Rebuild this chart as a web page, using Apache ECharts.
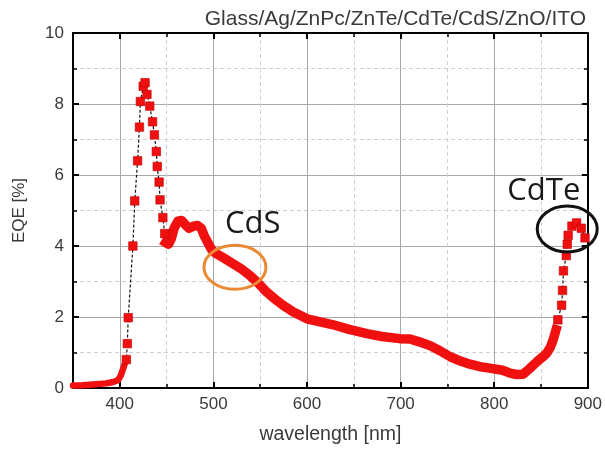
<!DOCTYPE html>
<html>
<head>
<meta charset="utf-8">
<script src="https://cdn.jsdelivr.net/npm/echarts@6/dist/echarts.min.js"></script>
<style>
  html, body { margin: 0; padding: 0; background: #fff; }
  #chart { width: 605px; height: 450px; }
</style>
</head>
<body>
<div id="chart"></div>
<script>
// EQE spectrum of Glass/Ag/ZnPc/ZnTe/CdTe/CdS/ZnO/ITO, wavelength in nm, EQE in %.
// Densely sampled stretches are drawn as a solid band, sparse ones as square markers.
const lowWl  = [350, 360, 371, 385, 392, 398, 401, 403, 405];
const lowEqe = [0.07, 0.08, 0.1, 0.13, 0.16, 0.22, 0.35, 0.5, 0.65];

const peakWl  = [407, 408, 409, 414, 416, 419, 421, 422, 425, 427, 429, 432, 435, 437, 439, 440, 442, 443, 446, 448];
const peakEqe = [0.8, 1.25, 1.98, 4.0, 5.27, 6.4, 7.35, 8.07, 8.5, 8.6, 8.27, 7.94, 7.5, 7.13, 6.66, 6.24, 5.8, 5.3, 4.8, 4.35];

const midWl  = [449, 452, 455, 458, 462, 466, 470, 474, 478, 483, 487, 490, 494, 498, 502, 510, 521, 530, 539, 548,
                557, 566, 574, 585, 600, 614, 628, 645, 664, 680, 699, 710, 720, 731, 742, 753, 764, 774, 785, 795,
                809, 817, 824, 831, 838, 846, 852, 856, 860, 863, 866];
const midEqe = [4.1, 4.05, 4.2, 4.5, 4.7, 4.72, 4.6, 4.5, 4.55, 4.58, 4.5, 4.3, 4.1, 3.9, 3.8, 3.68, 3.5, 3.35, 3.17, 2.95,
                2.7, 2.5, 2.34, 2.15, 1.95, 1.86, 1.78, 1.65, 1.53, 1.45, 1.39, 1.38, 1.3, 1.2, 1.05, 0.88, 0.76, 0.67, 0.6, 0.56,
                0.5, 0.42, 0.38, 0.39, 0.55, 0.75, 0.88, 0.98, 1.15, 1.36, 1.64];

const edgeWl  = [868, 872, 873, 874, 877, 878, 879, 883, 888, 893, 897];
const edgeEqe = [1.92, 2.33, 2.75, 3.3, 3.73, 4.05, 4.3, 4.56, 4.65, 4.5, 4.23];

// Axis ticks
const xLabelValues = [400, 500, 600, 700, 800, 900];
const xMajorTicks  = [400, 500, 600, 700, 800];
const xMinorTicks  = [450, 550, 650, 750, 850];

// Callouts for the absorber layers (position in data units)
const callouts = [
  { text: 'CdS',  textAt: [542, 4.62], ringAt: [523, 3.4],  ringColor: '#ea8a35', rx: 31, ry: 22 },
  { text: 'CdTe', textAt: [853, 5.54], ringAt: [878, 4.48], ringColor: '#111111', rx: 30, ry: 23 }
];

const pairs = (xs, ys) => xs.map((x, i) => [x, ys[i]]);
const lowData = pairs(lowWl, lowEqe);
const peakData = pairs(peakWl, peakEqe);
const midData = pairs(midWl, midEqe);
const edgeData = pairs(edgeWl, edgeEqe);
const allData = lowData.concat(peakData, midData, edgeData);

const RED = '#f01010';
const TXT = '#3a3a3a';
const FONT = '"Liberation Sans", Arial, sans-serif';

const chart = echarts.init(document.getElementById('chart'), null, { renderer: 'canvas' });

const baseX = { type: 'value', min: 350, max: 900, gridIndex: 0 };

chart.setOption({
  animation: false,
  backgroundColor: '#ffffff',
  title: {
    text: 'Glass/Ag/ZnPc/ZnTe/CdTe/CdS/ZnO/ITO',
    right: 14, top: 4,
    textStyle: { fontFamily: FONT, fontSize: 21, fontWeight: 'normal', color: TXT }
  },
  grid: { left: 73, right: 17, top: 33, bottom: 58, containLabel: false },
  xAxis: [
    Object.assign({}, baseX, {
      position: 'bottom',
      name: 'wavelength [nm]', nameLocation: 'middle', nameGap: 37,
      nameTextStyle: { fontFamily: FONT, fontSize: 19.5, color: TXT },
      axisLine: { show: true, onZero: false, lineStyle: { color: '#000', width: 2 } },
      axisTick: { show: true, inside: true, length: 6, customValues: xMajorTicks, lineStyle: { color: '#000', width: 2 } },
      axisLabel: { show: true, customValues: xLabelValues, margin: 8, fontFamily: FONT, fontSize: 17, color: TXT },
      splitLine: { show: true, lineStyle: { color: '#a8a8a8', width: 1 } }
    }),
    Object.assign({}, baseX, {
      position: 'bottom',
      axisLine: { show: false, onZero: false },
      axisTick: { show: true, inside: true, length: 4, customValues: xMinorTicks, lineStyle: { color: '#000', width: 1.5 } },
      axisLabel: { show: false },
      splitLine: { show: true, lineStyle: { color: '#cfcfcf', width: 1, type: [4, 3] } }
    }),
    Object.assign({}, baseX, {
      position: 'top',
      axisLine: { show: true, onZero: false, lineStyle: { color: '#000', width: 2 } },
      axisTick: { show: true, inside: true, length: 6, customValues: xMajorTicks, lineStyle: { color: '#000', width: 2 } },
      axisLabel: { show: false },
      splitLine: { show: false }
    }),
    Object.assign({}, baseX, {
      position: 'top',
      axisLine: { show: false, onZero: false },
      axisTick: { show: true, inside: true, length: 4, customValues: xMinorTicks, lineStyle: { color: '#000', width: 1.5 } },
      axisLabel: { show: false },
      splitLine: { show: false }
    })
  ],
  yAxis: [
    {
      type: 'value', min: 0, max: 10, interval: 2, position: 'left',
      name: 'EQE [%]', nameLocation: 'middle', nameGap: 45, nameRotate: 90,
      nameTextStyle: { fontFamily: FONT, fontSize: 17, color: TXT },
      axisLine: { show: true, onZero: false, lineStyle: { color: '#000', width: 2 } },
      axisTick: { show: true, inside: true, length: 6, lineStyle: { color: '#000', width: 2 } },
      minorTick: { show: true, splitNumber: 2, length: 4, lineStyle: { color: '#000', width: 1.5 } },
      axisLabel: { margin: 9, fontFamily: FONT, fontSize: 17, color: TXT },
      splitLine: { show: true, lineStyle: { color: '#a8a8a8', width: 1 } },
      minorSplitLine: { show: true, lineStyle: { color: '#cfcfcf', width: 1, type: [4, 3] } }
    },
    {
      type: 'value', min: 0, max: 10, interval: 2, position: 'right',
      axisLine: { show: true, onZero: false, lineStyle: { color: '#000', width: 2 } },
      axisTick: { show: true, inside: true, length: 6, lineStyle: { color: '#000', width: 2 } },
      minorTick: { show: true, splitNumber: 2, length: 4, lineStyle: { color: '#000', width: 1.5 } },
      axisLabel: { show: false },
      splitLine: { show: false }
    }
  ],
  series: [
    {
      name: 'trace', type: 'line', data: allData, xAxisIndex: 0, yAxisIndex: 0,
      symbol: 'none', silent: true, z: 2,
      lineStyle: { color: '#111', width: 1.2, type: [3, 2] }
    },
    {
      name: 'band-low', type: 'line', data: lowData, xAxisIndex: 0, yAxisIndex: 0,
      symbol: 'none', silent: true, z: 3,
      lineStyle: { color: RED, width: 6.5, cap: 'round', join: 'round' }
    },
    {
      name: 'band-mid', type: 'line', data: midData, xAxisIndex: 0, yAxisIndex: 0,
      symbol: 'none', silent: true, z: 3,
      lineStyle: { color: RED, width: 9.5, cap: 'square', join: 'round' }
    },
    {
      name: 'squares', type: 'scatter', data: peakData.concat(edgeData), xAxisIndex: 0, yAxisIndex: 0,
      symbol: 'rect', symbolSize: 8.5, silent: true, z: 4,
      itemStyle: { color: RED, opacity: 1, borderColor: '#c00000', borderWidth: 0.6 }
    }
  ]
});

// Callout labels and rings, placed through the axis scales
const graphics = [];
callouts.forEach(c => {
  const t = chart.convertToPixel({ xAxisIndex: 0, yAxisIndex: 0 }, c.textAt);
  const r = chart.convertToPixel({ xAxisIndex: 0, yAxisIndex: 0 }, c.ringAt);
  graphics.push({
    type: 'text', x: t[0], y: t[1], z: 10,
    style: { text: c.text, fill: '#1a1a1a', font: '31px "Open Sans", sans-serif', align: 'center', verticalAlign: 'middle' }
  });
  graphics.push({
    type: 'ellipse', z: 10,
    shape: { cx: r[0], cy: r[1], rx: c.rx, ry: c.ry },
    style: { fill: 'none', stroke: c.ringColor, lineWidth: 3 }
  });
});
chart.setOption({ graphic: graphics });
</script>
</body>
</html>
